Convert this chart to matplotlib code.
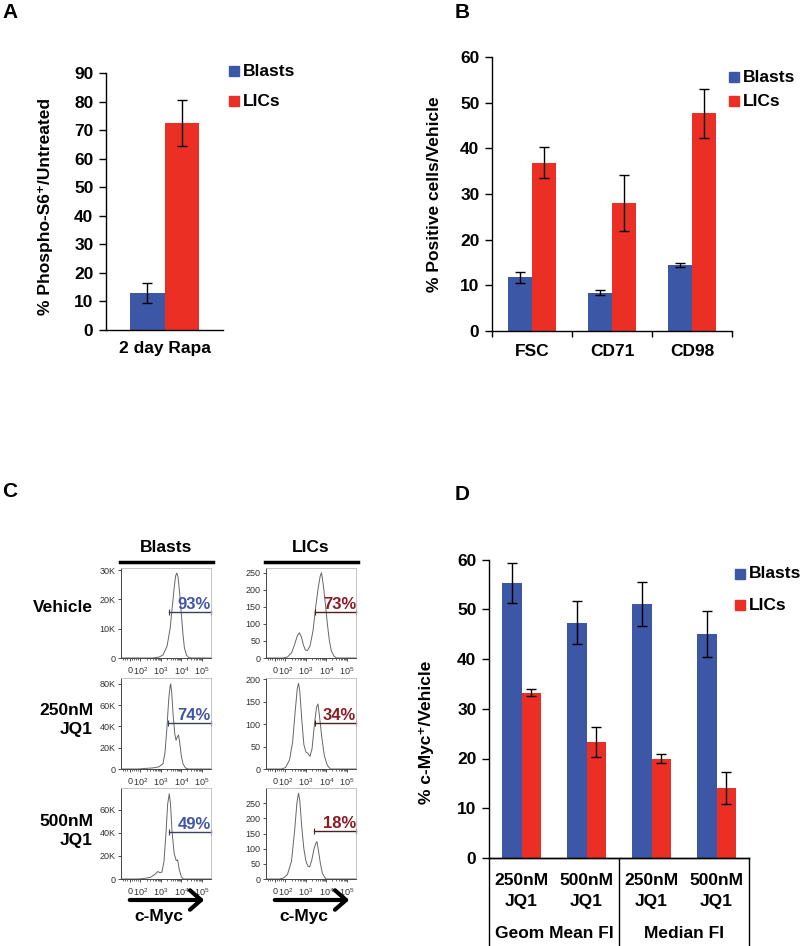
import matplotlib
matplotlib.use('agg')
import matplotlib.pyplot as plt
from matplotlib.patches import Rectangle, FancyArrowPatch
from matplotlib.lines import Line2D
import numpy as np

plt.rcParams['font.family'] = ['Liberation Sans', 'DejaVu Sans']
plt.rcParams['mathtext.fontset'] = 'custom'
plt.rcParams['mathtext.rm'] = 'Liberation Sans'
plt.rcParams['mathtext.bf'] = 'Liberation Sans:bold'

BLUE = '#3d57a7'
RED = '#ec2f25'
TXT_BLUE = '#3f55a5'
TXT_RED = '#8b1c24'

# ---- panel A ----
a_cats = ['2 day Rapa']
a_blasts = [13.0]
a_blasts_err = [3.5]
a_lics = [72.5]
a_lics_err = [8.0]

# ---- panel B ----
b_cats = ['FSC', 'CD71', 'CD98']
b_blasts = [11.8, 8.4, 14.4]
b_blasts_err = [1.2, 0.5, 0.4]
b_lics = [36.8, 28.0, 47.7]
b_lics_err = [3.4, 6.2, 5.4]

# ---- panel D ----
d_cats = ['250nM\nJQ1', '500nM\nJQ1', '250nM\nJQ1', '500nM\nJQ1']
d_groups = ['Geom Mean FI', 'Median FI']
d_blasts = [55.2, 47.3, 51.0, 45.0]
d_blasts_err = [4.0, 4.3, 4.4, 4.6]
d_lics = [33.2, 23.3, 20.0, 14.1]
d_lics_err = [0.7, 3.0, 1.0, 3.2]

# ---- panel C: flow histograms (x in log10 units, y counts) ----
rows = ['Vehicle', '250nM\nJQ1', '500nM\nJQ1']
cols = ['Blasts', 'LICs']
hist_x = {
    ('Vehicle', 'Blasts'): [1.05, 2.6, 2.9, 3.1, 3.3, 3.45, 3.55, 3.65, 3.72, 3.78, 3.84, 3.92, 4.0, 4.08, 4.15, 4.25, 4.35, 4.5, 5.45],
    ('Vehicle', 'LICs'): [1.05, 1.9, 2.1, 2.3, 2.45, 2.58, 2.68, 2.78, 2.88, 2.98, 3.08, 3.2, 3.35, 3.48, 3.6, 3.7, 3.76, 3.8, 3.86, 3.95, 4.05, 4.15, 4.25, 4.38, 4.5, 5.45],
    ('250nM\nJQ1', 'Blasts'): [1.05, 1.9, 2.2, 2.6, 2.9, 3.1, 3.2, 3.3, 3.38, 3.45, 3.48, 3.53, 3.6, 3.68, 3.74, 3.8, 3.86, 3.92, 4.0, 4.08, 4.2, 4.35, 5.45],
    ('250nM\nJQ1', 'LICs'): [1.05, 1.8, 2.0, 2.2, 2.35, 2.48, 2.58, 2.64, 2.7, 2.8, 2.9, 3.0, 3.1, 3.2, 3.3, 3.42, 3.52, 3.59, 3.66, 3.78, 3.9, 4.05, 4.2, 5.45],
    ('500nM\nJQ1', 'Blasts'): [1.05, 1.9, 2.2, 2.5, 2.7, 2.85, 2.95, 3.05, 3.15, 3.25, 3.33, 3.41, 3.47, 3.55, 3.65, 3.75, 3.82, 3.9, 4.0, 4.1, 5.45],
    ('500nM\nJQ1', 'LICs'): [1.05, 1.7, 1.9, 2.1, 2.3, 2.45, 2.56, 2.64, 2.7, 2.8, 2.9, 3.0, 3.1, 3.18, 3.28, 3.4, 3.5, 3.54, 3.6, 3.7, 3.8, 3.92, 4.0, 5.45],
}
hist_y = {
    ('Vehicle', 'Blasts'): [0, 0, 300, 1000, 4000, 10000, 17000, 24000, 28000, 29000, 27500, 22000, 15000, 8000, 3500, 1000, 200, 0, 0],
    ('Vehicle', 'LICs'): [0, 0, 3, 15, 40, 65, 74, 62, 38, 23, 22, 35, 80, 150, 205, 240, 250, 236, 210, 160, 100, 50, 20, 5, 0, 0],
    ('250nM\nJQ1', 'Blasts'): [0, 0, 500, 1000, 2000, 5000, 15000, 40000, 65000, 78000, 80000, 72000, 50000, 33000, 27000, 30000, 32000, 25000, 12000, 5000, 1000, 0, 0],
    ('250nM\nJQ1', 'LICs'): [0, 0, 3, 20, 60, 130, 180, 191, 175, 110, 55, 38, 35, 28, 45, 100, 138, 145, 120, 70, 30, 8, 0, 0],
    ('500nM\nJQ1', 'Blasts'): [0, 0, 500, 1500, 4000, 6500, 5500, 6000, 15000, 40000, 65000, 74000, 65000, 40000, 22000, 16000, 16500, 8000, 2000, 0, 0],
    ('500nM\nJQ1', 'LICs'): [0, 0, 3, 15, 60, 160, 250, 283, 260, 170, 100, 60, 42, 40, 60, 100, 120, 123, 100, 55, 20, 5, 0, 0],
}
hist_ymax = {
    ('Vehicle', 'Blasts'): 30700, ('Vehicle', 'LICs'): 264,
    ('250nM\nJQ1', 'Blasts'): 85600, ('250nM\nJQ1', 'LICs'): 203,
    ('500nM\nJQ1', 'Blasts'): 79000, ('500nM\nJQ1', 'LICs'): 300,
}
hist_yticks = {
    ('Vehicle', 'Blasts'): [0, 10000, 20000, 30000], ('Vehicle', 'LICs'): [0, 50, 100, 150, 200, 250],
    ('250nM\nJQ1', 'Blasts'): [0, 20000, 40000, 60000, 80000], ('250nM\nJQ1', 'LICs'): [0, 50, 100, 150, 200],
    ('500nM\nJQ1', 'Blasts'): [0, 20000, 40000, 60000], ('500nM\nJQ1', 'LICs'): [0, 50, 100, 150, 200, 250],
}
gate_start = {
    ('Vehicle', 'Blasts'): 3.4, ('Vehicle', 'LICs'): 3.45,
    ('250nM\nJQ1', 'Blasts'): 3.36, ('250nM\nJQ1', 'LICs'): 3.46,
    ('500nM\nJQ1', 'Blasts'): 3.39, ('500nM\nJQ1', 'LICs'): 3.42,
}
gate_level = {
    ('Vehicle', 'Blasts'): 15700, ('Vehicle', 'LICs'): 134,
    ('250nM\nJQ1', 'Blasts'): 43600, ('250nM\nJQ1', 'LICs'): 103,
    ('500nM\nJQ1', 'Blasts'): 40600, ('500nM\nJQ1', 'LICs'): 157,
}
gate_pct = {
    ('Vehicle', 'Blasts'): '93%', ('Vehicle', 'LICs'): '73%',
    ('250nM\nJQ1', 'Blasts'): '74%', ('250nM\nJQ1', 'LICs'): '34%',
    ('500nM\nJQ1', 'Blasts'): '49%', ('500nM\nJQ1', 'LICs'): '18%',
}
flow_xticks = [1.5, 2, 3, 4, 5]
flow_xlabels = ['0', '$10^2$', '$10^3$', '$10^4$', '$10^5$']

W, H = 800, 946
fig = plt.figure(figsize=(W / 100, H / 100), dpi=100)


def px_axes(l, t, r, b):
    return fig.add_axes([l / W, 1 - b / H, (r - l) / W, (b - t) / H])


def fx(x):
    return x / W


def fy(y):
    return 1 - y / H


def bar_panel(ax, blasts, berr, lics, lerr, ymax):
    x = np.arange(len(blasts))
    w = 0.295
    ekw = dict(ecolor='black', elinewidth=1, capsize=3.6, capthick=1)
    ax.bar(x - w / 2, blasts, w, color=BLUE, yerr=berr, error_kw=ekw)
    ax.bar(x + w / 2, lics, w, color=RED, yerr=lerr, error_kw=ekw)
    ax.set_xlim(-0.5, len(blasts) - 0.5)
    ax.set_ylim(0, ymax)
    ax.set_yticks(np.arange(0, ymax + 1, 10))
    for s in ['top', 'right']:
        ax.spines[s].set_visible(False)
    for s in ['left', 'bottom']:
        ax.spines[s].set_linewidth(1)
    ax.tick_params(axis='y', direction='out', length=5, width=1, labelsize=12.5, pad=4)
    for t in ax.get_yticklabels():
        t.set_fontweight('bold')
    return x


def legend(x, y1, y2):
    for yy, c, lab in [(y1, BLUE, 'Blasts'), (y2, RED, 'LICs')]:
        fig.add_artist(Rectangle((fx(x), fy(yy + 5)), 10 / W, 10 / H, color=c,
                                 transform=fig.transFigure))
        fig.text(fx(x + 14), fy(yy), lab, fontsize=12.5, fontweight='bold', va='center')


# ---------- A ----------
ax = px_axes(106, 73, 223, 330)
x = bar_panel(ax, a_blasts, a_blasts_err, a_lics, a_lics_err, 90)
ax.set_xticks(x)
ax.set_xticklabels(a_cats, fontsize=12.5, fontweight='bold')
ax.tick_params(axis='x', length=0, pad=8)
ax.set_ylabel('% Phospho-S6\u207a/Untreated', fontsize=12.5, fontweight='bold')
ax.yaxis.set_label_coords(-0.45, 0.48)
legend(229, 71, 101)
fig.text(fx(10), fy(12), 'A', fontsize=15, fontweight='bold', ha='center', va='center')

# ---------- B ----------
ax = px_axes(492, 57, 732, 331)
x = bar_panel(ax, b_blasts, b_blasts_err, b_lics, b_lics_err, 60)
ax.set_xticks(x)
ax.set_xticklabels(b_cats, fontsize=12.5, fontweight='bold')
ax.set_xticks(np.arange(-0.5, len(x)), minor=True)
ax.tick_params(axis='x', which='major', length=0, pad=9)
ax.tick_params(axis='x', which='minor', length=4, width=1, direction='out')
ax.set_ylabel('% Positive cells/Vehicle', fontsize=12.5, fontweight='bold')
ax.yaxis.set_label_coords(-0.21, 0.5)
legend(729, 77, 101)
fig.text(fx(462), fy(13), 'B', fontsize=15, fontweight='bold', ha='center', va='center')

# ---------- D ----------
ax = px_axes(489, 559.5, 749, 858)
x = bar_panel(ax, d_blasts, d_blasts_err, d_lics, d_lics_err, 60)
ax.set_xticks([])
ax.set_ylabel('% c-Myc\u207a/Vehicle', fontsize=12.5, fontweight='bold')
ax.yaxis.set_label_coords(-0.21, 0.42)
for i, lab in enumerate(d_cats):
    top, bot = lab.split('\n')
    fig.text(fx(521.5 + 65 * i), fy(880), top, fontsize=12.5, fontweight='bold', ha='center', va='center')
    fig.text(fx(521.5 + 65 * i), fy(901), bot, fontsize=12.5, fontweight='bold', ha='center', va='center')
for j, g in enumerate(d_groups):
    fig.text(fx(554 + 130 * j), fy(933), g, fontsize=12.5, fontweight='bold', ha='center', va='center')
for xl in [489, 619, 749]:
    fig.add_artist(Line2D([fx(xl), fx(xl)], [fy(858), 0], color='black', lw=1,
                          transform=fig.transFigure))
fig.add_artist(Line2D([fx(489), fx(749)], [fy(858), fy(858)], color='black', lw=1,
                      transform=fig.transFigure))
legend(735, 574, 605)
fig.text(fx(462), fy(494), 'D', fontsize=15, fontweight='bold', ha='center', va='center')

# ---------- C ----------
fig.text(fx(10), fy(491), 'C', fontsize=15, fontweight='bold', ha='center', va='center')
col_x = {'Blasts': (121, 211), 'LICs': (266, 356)}
row_y = {'Vehicle': (568, 658), '250nM\nJQ1': (678, 769), '500nM\nJQ1': (788, 879)}
row_label_y = {'Vehicle': 607, '250nM\nJQ1': 720, '500nM\nJQ1': 831}

minor = []
for d in [2, 3, 4]:
    minor += [d + np.log10(k) for k in range(2, 10)]
minor += [1.15, 1.25, 1.35, 1.6, 1.7, 1.8, 1.9]

for c in cols:
    l, r = col_x[c]
    fig.text(fx((l + r) / 2), fy(547), c, fontsize=12.5, fontweight='bold', ha='center', va='center')
    fig.add_artist(Line2D([fx(l - 1), fx(r + 2)], [fy(562), fy(562)], color='black', lw=2.5,
                          transform=fig.transFigure))
    fig.add_artist(FancyArrowPatch((fx(l + 6), fy(900)), (fx(r - 4), fy(900)),
                                   transform=fig.transFigure,
                                   arrowstyle='->,head_length=8,head_width=7',
                                   lw=3, color='black', mutation_scale=1))
    fig.text(fx((l + r) / 2 - 7), fy(916), 'c-Myc', fontsize=12.5, fontweight='bold', ha='center', va='center')

for rname in rows:
    t, b = row_y[rname]
    fig.text(fx(93), fy(row_label_y[rname]), rname, fontsize=12.5, fontweight='bold',
             ha='right', va='center', linespacing=1.3, multialignment='right')
    for c in cols:
        key = (rname, c)
        l, r = col_x[c]
        ax = px_axes(l, t, r, b)
        ax.plot(hist_x[key], hist_y[key], color='#666666', lw=0.7)
        ax.set_xlim(1.05, 5.45)
        ax.set_ylim(0, hist_ymax[key])
        ax.set_xticks(flow_xticks)
        ax.set_xticklabels(flow_xlabels)
        ax.set_xticks(minor, minor=True)
        yt = hist_yticks[key]
        ax.set_yticks(yt)
        if c == 'Blasts':
            ax.set_yticklabels(['0'] + ['%dK' % (v // 1000) for v in yt[1:]])
        ax.tick_params(axis='both', which='major', labelsize=6.5, length=2.5, width=0.6,
                       colors='#333333', pad=1.5)
        ax.tick_params(axis='x', which='major', pad=3)
        ax.tick_params(axis='x', which='minor', length=1.5, width=0.5, colors='#333333')
        for s in ['top', 'right']:
            ax.spines[s].set_color('#bbbbbb')
            ax.spines[s].set_linewidth(0.6)
        for s in ['left', 'bottom']:
            ax.spines[s].set_color('#444444')
            ax.spines[s].set_linewidth(0.7)
        gcol = '#3b3f5c' if c == 'Blasts' else '#4a2222'
        g0, gl = gate_start[key], gate_level[key]
        ax.plot([g0, 5.45], [gl, gl], color=gcol, lw=1.0, marker='|', markersize=4,
                markeredgewidth=0.8, clip_on=False)
        ax.annotate(gate_pct[key], xy=(5.45, gl), xytext=(0, 2.2), textcoords='offset points',
                    ha='right', va='baseline', fontsize=12, fontweight='bold',
                    color=TXT_BLUE if c == 'Blasts' else TXT_RED)

fig.savefig('out.png', dpi=100)
